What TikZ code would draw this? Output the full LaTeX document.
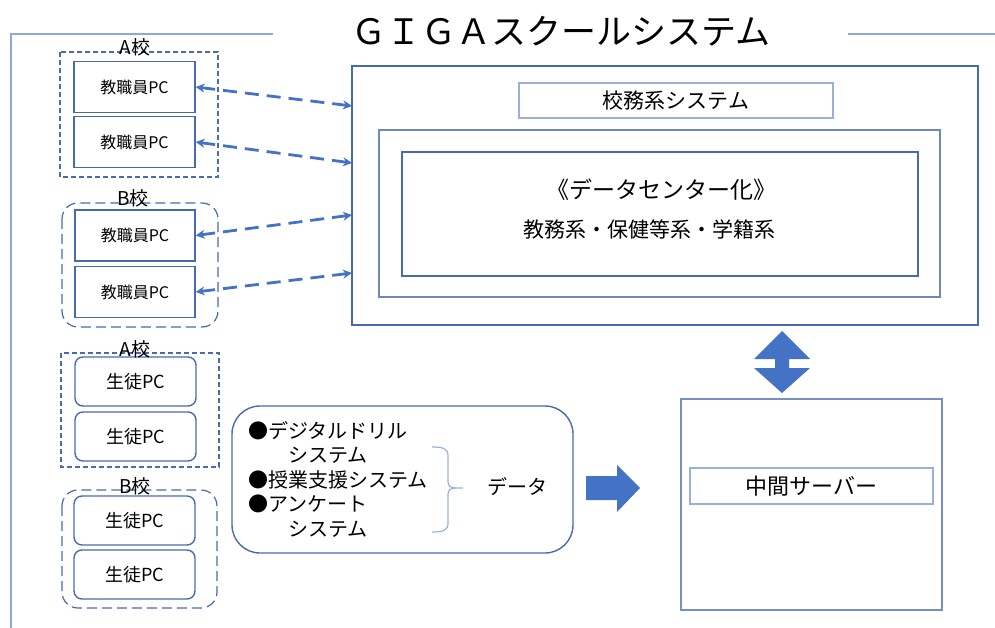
\documentclass[tikz,border=0pt]{standalone}
\usepackage{fontspec}
\setmainfont{Noto Sans CJK JP}
\usetikzlibrary{arrows.meta}
\definecolor{framec}{HTML}{8FA8D6}
\definecolor{boxc}{HTML}{4A6AAE}
\definecolor{lightc}{HTML}{9AB0DA}
\definecolor{arrc}{HTML}{4472C4}
\tikzset{
  pcbox/.style={draw=boxc, line width=1.4pt, fill=white, inner sep=0pt, minimum width=121pt, minimum height=51pt, font=\fontsize{16}{16}\selectfont},
  stbox/.style={pcbox, rounded corners=8pt, minimum height=49pt, font=\fontsize{18}{18}\selectfont},
  grprect/.style={draw=boxc, line width=1.2pt, dash pattern=on 5pt off 3pt},
  grpround/.style={draw=boxc, line width=1.2pt, dash pattern=on 10pt off 5pt, rounded corners=16pt},
  grplabel/.style={inner sep=0pt, font=\fontsize{19}{19}\selectfont},
  sysbox/.style={draw=boxc, line width=1.3pt, inner sep=0pt},
  lightbox/.style={draw=lightc, line width=1.3pt, inner sep=0pt},
  dasharrow/.style={draw=arrc, line width=2.8pt, dash pattern=on 14pt off 8pt, {Stealth[length=9pt,width=9pt]}-{Stealth[length=9pt,width=9pt]}},
  txt/.style={inner sep=0pt, font=\fontsize{20}{20}\selectfont},
}
\begin{document}
\begin{tikzpicture}[x=1pt,y=-1pt]
\useasboundingbox (0,0) rectangle (995,628);
% outer frame
\draw[framec, line width=2pt] (273,34) -- (11,34) -- (11,628);
\draw[framec, line width=2pt] (848,34) -- (995,34);
\node[inner sep=0pt, font=\fontsize{35}{35}\selectfont] (title) at (561,31) {ＧＩＧＡスクールシステム};

% teacher groups
\draw[grprect] (60,52) rectangle (218,177);
\draw[grpround] (62,203) rectangle (218,327);
\node[pcbox] (tA1) at (134.5,87) {教職員PC};
\node[pcbox] (tA2) at (134.5,142) {教職員PC};
\node[pcbox, minimum width=120pt] (tB1) at (135,235.5) {教職員PC};
\node[pcbox, minimum width=120pt] (tB2) at (135,292) {教職員PC};
\node[grplabel] (lA1) at (135,47) {A校};
\node[grplabel] (lB1) at (133,198) {B校};

% student groups
\draw[grprect] (61,353) rectangle (219,467);
\draw[grpround] (62,490) rectangle (217,608);
\node[stbox] (sA1) at (135.5,381.5) {生徒PC};
\node[stbox] (sA2) at (135.5,436.5) {生徒PC};
\node[stbox] (sB1) at (134.5,520.5) {生徒PC};
\node[stbox] (sB2) at (134.5,574.5) {生徒PC};
\node[grplabel] (lA2) at (135,349) {A校};
\node[grplabel] (lB2) at (135,486) {B校};

% school system
\node[sysbox, minimum width=626pt, minimum height=259pt] (sys) at (665,195.5) {};
\node[lightbox, minimum width=314pt, minimum height=35pt, font=\fontsize{21}{21}\selectfont] (kmu) at (676,100.5) {校務系システム};
\node[sysbox, draw=boxc!80, minimum width=561pt, minimum height=167pt] (inner) at (659.5,213.5) {};
\node[sysbox, minimum width=516pt, minimum height=124pt] (dc) at (660,214) {};
\node[txt, font=\fontsize{23}{23}\selectfont] (dct1) at (661,190) {《データセンター化》};
\node[txt, font=\fontsize{21}{21}\selectfont] (dct2) at (649,229) {教務系・保健等系・学籍系};

% dashed arrows
\coordinate (c1) at (352,106);
\coordinate (c2) at (352,163);
\coordinate (c3) at (352,215);
\coordinate (c4) at (352,273);
\draw[dasharrow] (tA1.east) -- (c1);
\draw[dasharrow] (tA2.east) -- (c2);
\draw[dasharrow] (tB1.east) -- (c3);
\draw[dasharrow] (tB2.east) -- (c4);

% middle server
\node[lightbox, draw=boxc!75, minimum width=261pt, minimum height=211pt] (srv) at (811.5,504.5) {};
\node[lightbox, minimum width=243pt, minimum height=36pt, font=\fontsize{22}{22}\selectfont] (srvl) at (811.5,486) {中間サーバー};

% up-down block arrow
\fill[arrc] (782,331) -- (810,359) -- (789,359) -- (789,368) -- (810,368) -- (782,393)
  -- (754,368) -- (775,368) -- (775,359) -- (754,359) -- cycle;

% list box
\node[draw=boxc, line width=1.4pt, rounded corners=28pt, minimum width=341pt, minimum height=147pt, inner sep=0pt] (lst) at (402.5,479.5) {};
\node[anchor=north west, inner sep=0pt, align=left, font=\fontsize{20}{24.5}\selectfont] (lsttxt) at (248,421)
  {●デジタルドリル\\\hspace*{2em}システム\\●授業支援システム\\●アンケート\\\hspace*{2em}システム};
\draw[lightc, line width=1.2pt] (432,447) .. controls (444,447) and (448,449) .. (448,456) -- (448,481)
  .. controls (448,486) and (450,488) .. (456,488) -- (463,488);
\draw[lightc, line width=1.2pt] (432,532) .. controls (444,532) and (448,530) .. (448,523) -- (448,495)
  .. controls (448,490) and (450,488) .. (456,488);
\node[txt] (data) at (517,487) {データ};

% right block arrow
\fill[arrc] (586,476) -- (617,476) -- (617,465) -- (640,488) -- (617,512) -- (617,500) -- (586,500) -- cycle;
\end{tikzpicture}
\end{document}
